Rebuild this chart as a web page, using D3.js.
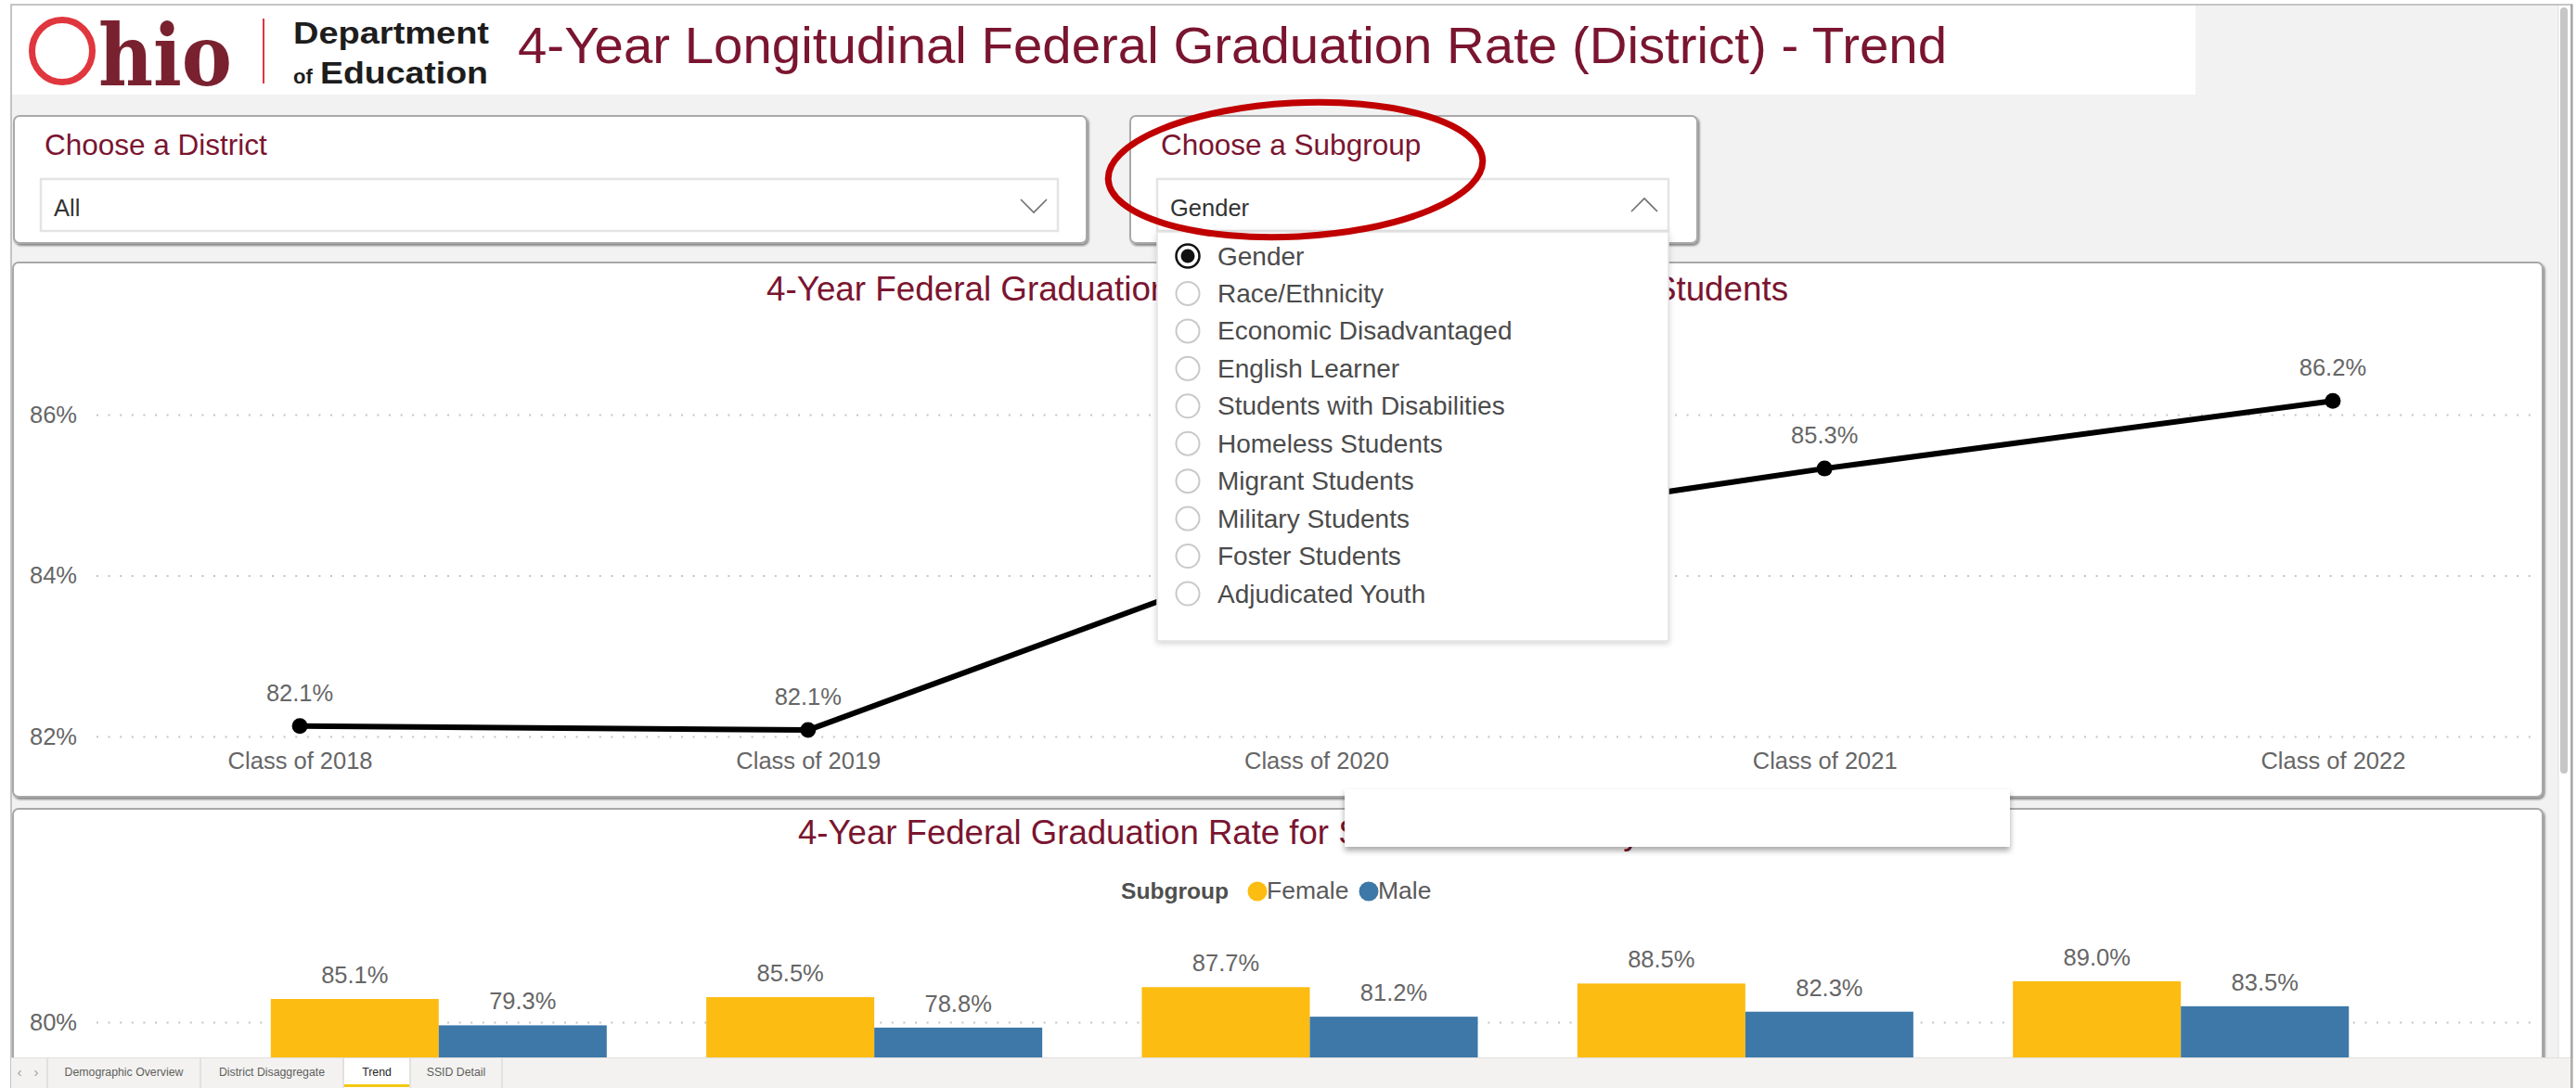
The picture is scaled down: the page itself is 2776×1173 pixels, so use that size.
<!DOCTYPE html>
<html><head><meta charset="utf-8">
<script src="https://cdn.jsdelivr.net/npm/d3@7"></script>
<style>
html,body{margin:0;padding:0;background:#fff;overflow:hidden;}
svg{display:block;font-family:"Liberation Sans",Arial,Helvetica,sans-serif;}
</style></head><body>
<svg id="c" width="2776" height="1173"></svg>
<script>
// ---------------- DATA ----------------
const years = ["Class of 2018", "Class of 2019", "Class of 2020", "Class of 2021", "Class of 2022"];
const allStudentRates = [82.13, 82.08, 84.4, 85.33, 86.17];
const subgroups = ["Female", "Male"];
const femaleRates = [85.1, 85.5, 87.7, 88.5, 89.0];
const maleRates = [79.3, 78.8, 81.2, 82.3, 83.5];
const lineTicks = [82, 84, 86];
const barTicks = [0, 20, 40, 60, 80];
const subgroupOptions = ["Gender", "Race/Ethnicity", "Economic Disadvantaged", "English Learner",
  "Students with Disabilities", "Homeless Students", "Migrant Students", "Military Students",
  "Foster Students", "Adjudicated Youth"];
const selectedSubgroup = "Gender";
const selectedDistrict = "All";
const pageTabs = ["Demographic Overview", "District Disaggregate", "Trend", "SSID Detail"];
const activeTab = "Trend";
const reportTitle = "4-Year Longitudinal Federal Graduation Rate (District) - Trend";
const lineTitle = "4-Year Federal Graduation Rate for All Ohio Public School Students";
const barTitle = "4-Year Federal Graduation Rate for Students Divided by Gender";

// ---------------- STYLE ----------------
const MAROON = "#7a1530";
const GRAY_TXT = "#666666";
const COLORS = {Female: "#FDBC12", Male: "#3D78A8"};
const fmt = v => d3.format(".1f")(v) + "%";
const VIEW_BOTTOM = 1140; // page tab bar covers everything below

const svg = d3.select("#c");
const defs = svg.append("defs");
function shadow(id, dx, dy, sd, op) {
  const f = defs.append("filter").attr("id", id).attr("x", "-10%").attr("y", "-10%").attr("width", "120%").attr("height", "130%");
  f.append("feDropShadow").attr("dx", dx).attr("dy", dy).attr("stdDeviation", sd)
    .attr("flood-color", "#000").attr("flood-opacity", op);
}
shadow("sh", 1.5, 2, 1.2, 0.45);
shadow("sh2", 0, 4, 3, 0.35);
shadow("sh3", 0, 2, 3, 0.18);

// page background + frame
svg.append("rect").attr("x", 12).attr("y", 5).attr("width", 2760).attr("height", 1175)
  .attr("fill", "#f2f2f2").attr("stroke", "#b4b4b4").attr("stroke-width", 1.5);

// header
svg.append("rect").attr("x", 13).attr("y", 6).attr("width", 2353).attr("height", 96).attr("fill", "#fff");
const logo = svg.append("g");
logo.append("ellipse").attr("cx", 67).attr("cy", 55).attr("rx", 32.5).attr("ry", 33.5)
  .attr("fill", "none").attr("stroke", "#e0363e").attr("stroke-width", 7);
logo.append("text").attr("x", 106).attr("y", 92).text("hio")
  .attr("font-family", "'DejaVu Serif',serif").attr("font-weight", "bold").attr("font-size", 92)
  .attr("fill", "#7a2130").attr("textLength", 144).attr("lengthAdjust", "spacingAndGlyphs");
logo.append("line").attr("x1", 284).attr("x2", 284).attr("y1", 20).attr("y2", 90)
  .attr("stroke", "#e0363e").attr("stroke-width", 2);
logo.append("text").attr("x", 316).attr("y", 47).text("Department")
  .attr("font-weight", "bold").attr("font-size", 34).attr("fill", "#1d1d1d")
  .attr("textLength", 211).attr("lengthAdjust", "spacingAndGlyphs");
logo.append("text").attr("x", 316).attr("y", 90).text("of")
  .attr("font-weight", "bold").attr("font-size", 22).attr("fill", "#1d1d1d");
logo.append("text").attr("x", 345).attr("y", 90).text("Education")
  .attr("font-weight", "bold").attr("font-size", 34).attr("fill", "#1d1d1d")
  .attr("textLength", 181).attr("lengthAdjust", "spacingAndGlyphs");
svg.append("text").attr("x", 558).attr("y", 68).text(reportTitle)
  .attr("font-size", 56.4).attr("fill", MAROON);

// slicers
function slicer(x, w, title, value, up) {
  const g = svg.append("g");
  g.append("rect").attr("x", x).attr("y", 125).attr("width", w).attr("height", 137).attr("rx", 6)
    .attr("fill", "#fff").attr("stroke", "#a9a9a9").attr("stroke-width", 2).attr("filter", "url(#sh)");
  g.append("text").attr("x", x + 33).attr("y", 167).text(title).attr("font-size", 31.5).attr("fill", MAROON);
  g.append("rect").attr("x", x + 29).attr("y", 193).attr("width", w - 60).attr("height", 56)
    .attr("fill", "#fff").attr("stroke", "#e4e4e4").attr("stroke-width", 2.5);
  g.append("text").attr("x", x + 43).attr("y", 233).text(value).attr("font-size", 25.5).attr("fill", "#333");
  const cx = x + w - 57;
  const pts = up ? [[cx - 14, 228], [cx, 214], [cx + 14, 228]] : [[cx - 14, 215], [cx, 229], [cx + 14, 215]];
  g.append("polyline").attr("points", pts.map(p => p.join(",")).join(" "))
    .attr("fill", "none").attr("stroke", "#707070").attr("stroke-width", 1.6);
}
slicer(15, 1156, "Choose a District", selectedDistrict, false);
slicer(1218, 611, "Choose a Subgroup", selectedSubgroup, true);

// panels
function panel(y, h) {
  svg.append("rect").attr("x", 14).attr("y", y).attr("width", 2726).attr("height", h).attr("rx", 6)
    .attr("fill", "#fff").attr("stroke", "#a9a9a9").attr("stroke-width", 2).attr("filter", "url(#sh)");
}
panel(283, 576);
panel(872, 640);

// ---------------- LINE CHART ----------------
const lc = svg.append("g");
lc.append("text").attr("x", 826).attr("y", 324).text(lineTitle).attr("font-size", 36.8).attr("fill", MAROON);
const xL = d3.scalePoint().domain(years).range([104, 2733]).padding(0.4);
const yL = d3.scaleLinear().domain([82, 86]).range([794, 447]);
const yAxL = lc.append("g").attr("transform", "translate(104,0)")
  .call(d3.axisLeft(yL).tickValues(lineTicks).tickSize(-(2733 - 104)).tickPadding(21).tickFormat(d => d + "%"));
function styleAxis(ax, fs) {
  ax.select(".domain").remove();
  ax.selectAll(".tick line").attr("stroke", "#c4c4c4").attr("stroke-width", 2).attr("stroke-dasharray", "2,10.6");
  ax.selectAll(".tick text").attr("font-size", fs).attr("fill", GRAY_TXT).attr("font-family", "'Liberation Sans',Arial,sans-serif");
}
styleAxis(yAxL, 25.5);
const xAxL = lc.append("g").attr("transform", "translate(0,800)")
  .call(d3.axisBottom(xL).tickSize(0).tickPadding(11));
xAxL.select(".domain").remove();
xAxL.selectAll(".tick text").attr("font-size", 25.5).attr("fill", GRAY_TXT).attr("font-family", "'Liberation Sans',Arial,sans-serif");

const lineData = years.map((yv, i) => ({year: yv, v: allStudentRates[i]}));
lc.append("path").datum(lineData)
  .attr("d", d3.line().x(d => xL(d.year)).y(d => yL(d.v)))
  .attr("fill", "none").attr("stroke", "#000").attr("stroke-width", 6).attr("stroke-linejoin", "round");
lc.selectAll("circle.pt").data(lineData).join("circle").attr("class", "pt")
  .attr("cx", d => xL(d.year)).attr("cy", d => yL(d.v)).attr("r", 8.5).attr("fill", "#000");
lc.selectAll("text.lbl").data(lineData).join("text").attr("class", "lbl")
  .attr("x", d => xL(d.year)).attr("y", d => yL(d.v) - 27).attr("text-anchor", "middle")
  .attr("font-size", 25.5).attr("fill", GRAY_TXT).text(d => fmt(d.v));

// ---------------- BAR CHART ----------------
const bc = svg.append("g");
bc.append("text").attr("x", 860).attr("y", 910).text(barTitle).attr("font-size", 36.6).attr("fill", MAROON);
const x0 = d3.scaleBand().domain(years).range([97, 2726]).paddingInner(0.2286).paddingOuter(0.415);
const x1 = d3.scaleBand().domain(subgroups).range([0, x0.bandwidth()]);
const yB = d3.scaleLinear().domain([0, 90]).range([1494, 1053]);
// only the ticks above the page-tab bar are visible in the scrolled view
const visibleBarTicks = barTicks.filter(t => yB(t) < VIEW_BOTTOM);
const yAxB = bc.append("g").attr("transform", "translate(104,0)")
  .call(d3.axisLeft(yB).tickValues(visibleBarTicks).tickSize(-(2733 - 104)).tickPadding(21).tickFormat(d => d + "%"));
styleAxis(yAxB, 25.5);

const barData = [];
years.forEach((yv, i) => {
  barData.push({year: yv, g: "Female", v: femaleRates[i]});
  barData.push({year: yv, g: "Male", v: maleRates[i]});
});
bc.selectAll("rect.bar").data(barData).join("rect").attr("class", "bar")
  .attr("x", d => x0(d.year) + x1(d.g)).attr("width", x1.bandwidth())
  .attr("y", d => yB(d.v)).attr("height", d => VIEW_BOTTOM - yB(d.v)).attr("fill", d => COLORS[d.g]);
bc.selectAll("text.blbl").data(barData).join("text").attr("class", "blbl")
  .attr("x", d => x0(d.year) + x1(d.g) + x1.bandwidth() / 2).attr("y", d => yB(d.v) - 17)
  .attr("text-anchor", "middle").attr("font-size", 25.5).attr("fill", GRAY_TXT).text(d => fmt(d.v));

// legend
const lg = bc.append("g");
lg.append("text").attr("x", 1208).attr("y", 969).text("Subgroup").attr("font-weight", "bold")
  .attr("font-size", 24.6).attr("fill", "#4f4f4f");
const legX = {Female: 1355, Male: 1475};
subgroups.forEach(s => {
  lg.append("circle").attr("cx", legX[s]).attr("cy", 961).attr("r", 10.5).attr("fill", COLORS[s]);
  lg.append("text").attr("x", legX[s] + 10).attr("y", 969).text(s).attr("font-size", 26.5).attr("fill", "#5a5a5a");
});

// tooltip-like blank box
svg.append("rect").attr("x", 1449).attr("y", 851).attr("width", 717).attr("height", 62)
  .attr("fill", "#fff").attr("filter", "url(#sh2)");

// ---------------- DROPDOWN LIST ----------------
const dd = svg.append("g");
dd.append("rect").attr("x", 1247).attr("y", 250).attr("width", 551).attr("height", 441)
  .attr("fill", "#fff").attr("stroke", "#e2e2e2").attr("stroke-width", 1.5).attr("filter", "url(#sh3)");
const itemY = d3.scalePoint().domain(subgroupOptions).range([276, 640]);
const items = dd.selectAll("g.item").data(subgroupOptions).join("g").attr("class", "item")
  .attr("transform", d => `translate(0,${itemY(d)})`);
items.append("circle").attr("cx", 1280).attr("cy", 0).attr("r", 12.5).attr("fill", "#fff")
  .attr("stroke", d => d === selectedSubgroup ? "#111" : "#c9c9c9").attr("stroke-width", d => d === selectedSubgroup ? 2.5 : 2);
items.filter(d => d === selectedSubgroup).append("circle").attr("cx", 1280).attr("cy", 0).attr("r", 7.5).attr("fill", "#111");
items.append("text").attr("x", 1312).attr("y", 9.5).text(d => d).attr("font-size", 28).attr("fill", "#4b4b4b");

// red annotation ellipse
svg.append("ellipse").attr("cx", 1396).attr("cy", 183).attr("rx", 202).attr("ry", 72)
  .attr("transform", "rotate(-3,1396,183)")
  .attr("fill", "none").attr("stroke", "#c00000").attr("stroke-width", 7);

// ---------------- TAB BAR ----------------
const tb = svg.append("g");
tb.append("rect").attr("x", 12).attr("y", 1140).attr("width", 2760).attr("height", 33).attr("fill", "#f3f2f1");
tb.append("line").attr("x1", 12).attr("x2", 2772).attr("y1", 1140.5).attr("y2", 1140.5).attr("stroke", "#e1dfdd");
const tabEdges = [51, 216, 370, 442, 541];
pageTabs.forEach((t, i) => {
  const a = tabEdges[i], b = tabEdges[i + 1];
  if (t === activeTab) {
    tb.append("rect").attr("x", a + 1).attr("y", 1141).attr("width", b - a - 2).attr("height", 32).attr("fill", "#fff");
    tb.append("rect").attr("x", a + 1).attr("y", 1169).attr("width", b - a - 2).attr("height", 3).attr("fill", "#f2c811");
  }
  tb.append("text").attr("x", (a + b) / 2).attr("y", 1160).attr("text-anchor", "middle").text(t)
    .attr("font-size", 12.3).attr("fill", t === activeTab ? "#252423" : "#605e5c");
});
tabEdges.forEach(e => tb.append("line").attr("x1", e).attr("x2", e).attr("y1", 1141).attr("y2", 1173).attr("stroke", "#d2d0ce"));
tb.append("text").attr("x", 21).attr("y", 1161).attr("text-anchor", "middle").text("‹").attr("font-size", 15).attr("fill", "#a19f9d");
tb.append("text").attr("x", 39).attr("y", 1161).attr("text-anchor", "middle").text("›").attr("font-size", 15).attr("fill", "#a19f9d");

// scrollbar
svg.append("rect").attr("x", 2757).attr("y", 6).attr("width", 13).attr("height", 1134).attr("fill", "#fff");
svg.append("line").attr("x1", 2757).attr("x2", 2757).attr("y1", 6).attr("y2", 1140).attr("stroke", "#dedede");
svg.append("rect").attr("x", 2759).attr("y", 8).attr("width", 8).attr("height", 826).attr("rx", 4).attr("fill", "#c6c6c6");
svg.append("line").attr("x1", 2771).attr("x2", 2771).attr("y1", 5).attr("y2", 1173).attr("stroke", "#9a9a9a").attr("stroke-width", 1.5);
</script>
</body></html>
